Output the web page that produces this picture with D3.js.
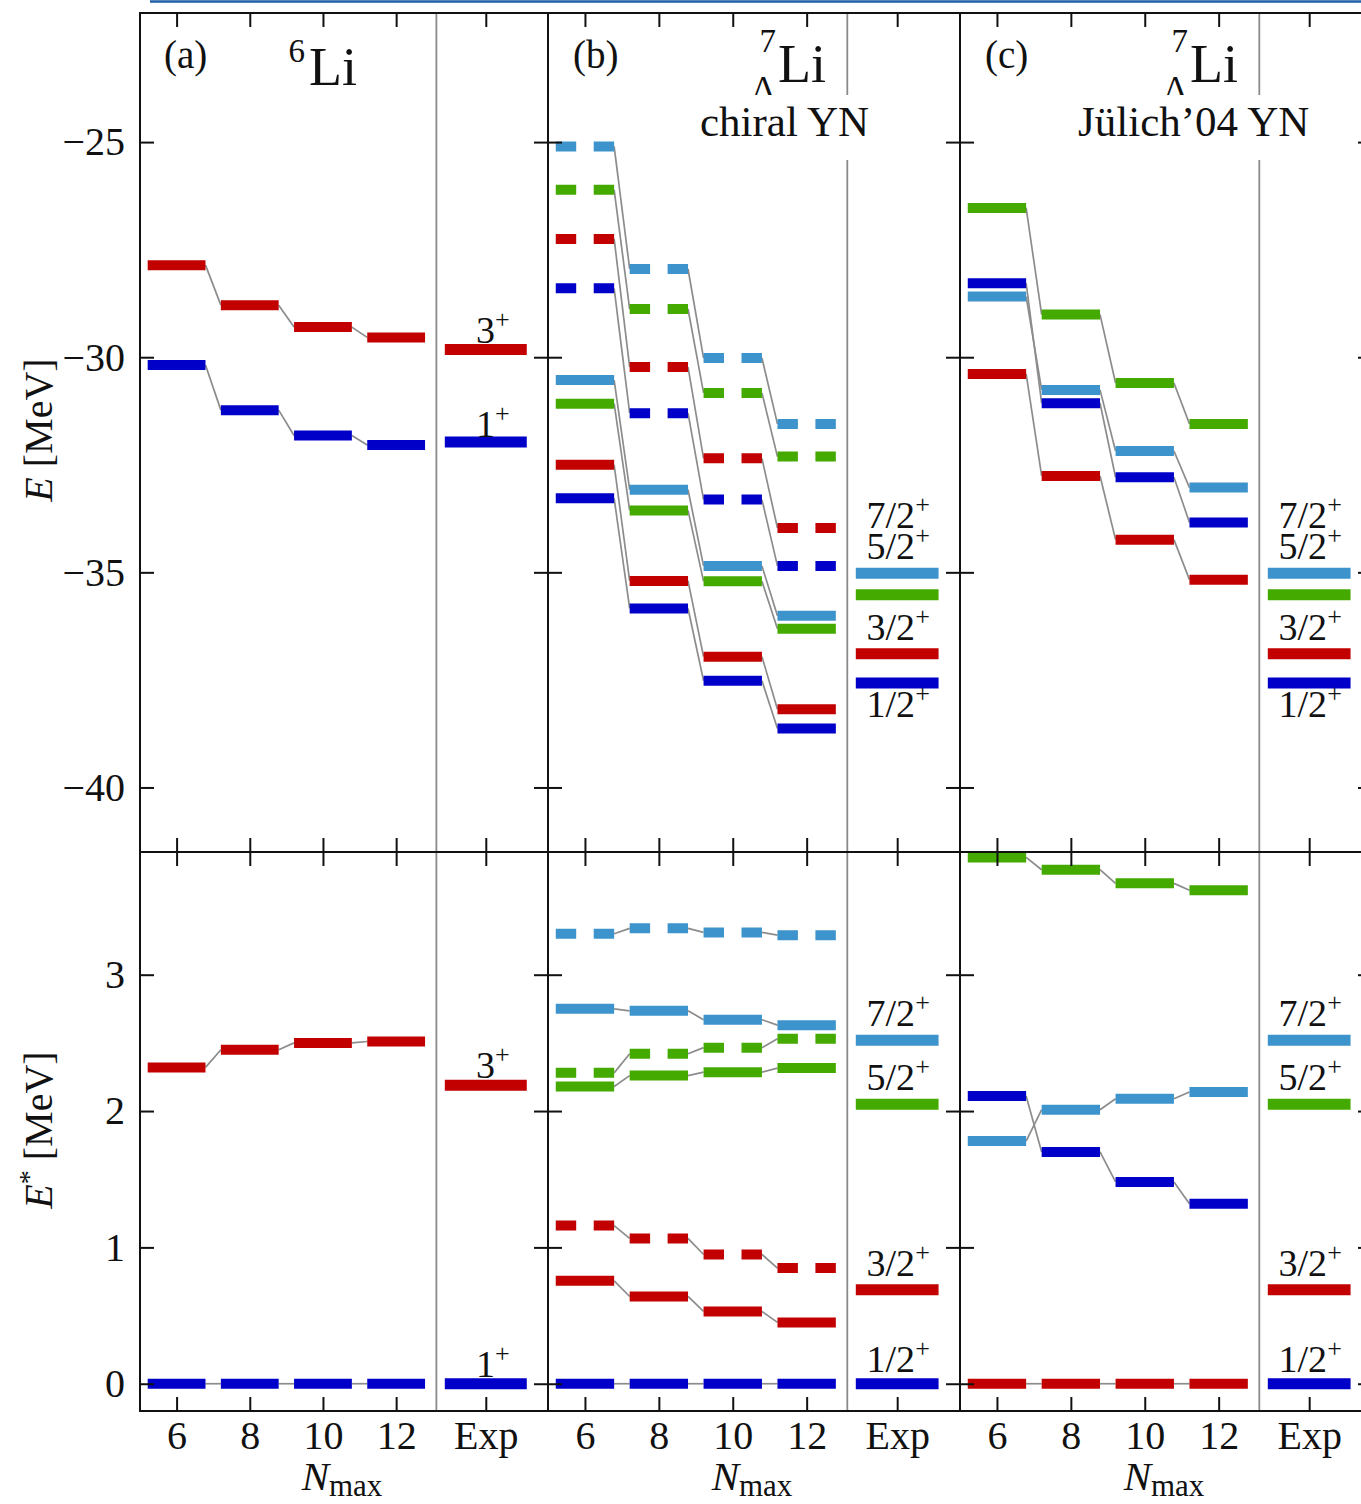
<!DOCTYPE html>
<html>
<head>
<meta charset="utf-8">
<script src="https://cdn.jsdelivr.net/npm/d3@7"></script>
<style>
  body { margin: 0; background: #fff; }
  svg { display: block; font-family: "Liberation Serif", "DejaVu Serif", serif; }
</style>
</head>
<body>
<svg id="chart" width="1361" height="1504"></svg>
<script>
(function() {
	'use strict';

	// x positions (Nmax), tick labels
	var nmaxValues = [6, 8, 10, 12];
	var expPos = 14.45;
	var sepPos = 13.1;
	var xTickValues = [6, 8, 10, 12, 14.45];
	var xTickLabels = ['6', '8', '10', '12', 'Exp'];
	var yTicksTop = [-25, -30, -35, -40];
	var yTicksBottom = [0, 1, 2, 3];

	// (a) 6Li, absolute energies [MeV]
	var li6Top3 = [-27.86, -28.79, -29.30, -29.54];
	var li6Top1 = [-30.18, -31.23, -31.82, -32.04];
	var li6ExpTop = [-29.82, -31.97];        // 3+, 1+
	// (a) 6Li, excitation energies
	var li6Exc3 = [2.32, 2.45, 2.50, 2.51];
	var li6Exc1 = [0, 0, 0, 0];
	var li6ExpExc = [2.19, 0];
	var li6Labels = ['3', '1'];

	// (b) 7/Lambda Li, chiral YN (solid / dashed)
	var chiTop72 = [-30.53, -33.08, -34.85, -36.01];
	var chiTop52 = [-31.08, -33.56, -35.21, -36.31];
	var chiTop32 = [-32.50, -35.20, -36.96, -38.18];
	var chiTop12 = [-33.28, -35.84, -37.52, -38.63];
	var chiTop72d = [-25.10, -27.95, -30.02, -31.55];
	var chiTop52d = [-26.11, -28.88, -30.83, -32.31];
	var chiTop32d = [-27.25, -30.23, -32.35, -33.97];
	var chiTop12d = [-28.40, -31.30, -33.31, -34.85];
	var chiExc72 = [2.75, 2.735, 2.67, 2.63];
	var chiExc52 = [2.18, 2.26, 2.285, 2.315];
	var chiExc32 = [0.755, 0.64, 0.53, 0.45];
	var chiExc12 = [0, 0, 0, 0];
	var chiExc72d = [3.30, 3.34, 3.31, 3.29];
	var chiExc52d = [2.28, 2.42, 2.465, 2.53];
	var chiExc32d = [1.16, 1.066, 0.948, 0.848];

	// (c) 7/Lambda Li, Juelich'04 YN
	var julTop72 = [-28.59, -30.76, -32.18, -33.03];
	var julTop52 = [-26.53, -29.01, -30.60, -31.55];
	var julTop32 = [-30.39, -32.76, -34.24, -35.17];
	var julTop12 = [-28.28, -31.07, -32.79, -33.84];
	var julExc72 = [1.78, 2.01, 2.09, 2.14];
	var julExc52 = [3.86, 3.77, 3.67, 3.62];
	var julExc32 = [0, 0, 0, 0];
	var julExc12 = [2.11, 1.70, 1.48, 1.32];

	// experiment 7/Lambda Li: 7/2+, 5/2+, 3/2+, 1/2+
	var lamExpTop = [-35.02, -35.52, -36.89, -37.57];
	var lamExpExc = [2.52, 2.05, 0.69, 0];
	var lamLabels = ['7/2', '5/2', '3/2', '1/2'];

	var RED = '#c20000', BLUE = '#0000c8', LBLUE = '#3d94cc', GREEN = '#44aa00';

	var svg = d3.select('#chart');
	var yTop = d3.scaleLinear().domain([-41.5, -22]).range([852, 13]);
	var yBot = d3.scaleLinear().domain([-0.2, 3.9]).range([1411, 852]);

	var ser = function(values, color, dashed) {
		return { values: values, color: color, dashed: !!dashed };
	};

	var lamSeries = function(t72, t52, t32, t12) {
		return [ser(t72, LBLUE), ser(t52, GREEN), ser(t32, RED), ser(t12, BLUE)];
	};

	var panels = [
		{
			left: 140, width: 408,
			top: [ser(li6Top3, RED), ser(li6Top1, BLUE)],
			bottom: [ser(li6Exc3, RED), ser(li6Exc1, BLUE)],
			expTop: [{ v: li6ExpTop[0], c: RED }, { v: li6ExpTop[1], c: BLUE }],
			expBot: [{ v: li6ExpExc[0], c: RED }, { v: li6ExpExc[1], c: BLUE }],
			labTop: [{ t: li6Labels[0], v: li6ExpTop[0], off: -6 }, { t: li6Labels[1], v: li6ExpTop[1], off: -5 }],
			labBot: [{ t: li6Labels[0], v: li6ExpExc[0], off: -7 }, { t: li6Labels[1], v: li6ExpExc[1], off: -7 }],
			labDx: 7
		},
		{
			left: 548, width: 412,
			top: [ser(chiTop72d, LBLUE, true), ser(chiTop52d, GREEN, true), ser(chiTop32d, RED, true), ser(chiTop12d, BLUE, true)]
				.concat(lamSeries(chiTop72, chiTop52, chiTop32, chiTop12)),
			bottom: [ser(chiExc72d, LBLUE, true), ser(chiExc52d, GREEN, true), ser(chiExc32d, RED, true)]
				.concat(lamSeries(chiExc72, chiExc52, chiExc32, chiExc12)),
			expTop: null, expBot: null, labDx: 1
		},
		{
			left: 960, width: 412,
			top: lamSeries(julTop72, julTop52, julTop32, julTop12),
			bottom: lamSeries(julExc72, julExc52, julExc32, julExc12),
			expTop: null, expBot: null, labDx: 1
		}
	];

	[1, 2].forEach(function(i) {
		var p = panels[i];
		p.expTop = [LBLUE, GREEN, RED, BLUE].map(function(c, k) { return { v: lamExpTop[k], c: c }; });
		p.expBot = [LBLUE, GREEN, RED, BLUE].map(function(c, k) { return { v: lamExpExc[k], c: c }; });
		p.labTop = [
			{ t: lamLabels[0], v: lamExpTop[0], off: -45 },
			{ t: lamLabels[1], v: lamExpTop[0], off: -14 },
			{ t: lamLabels[2], v: lamExpTop[2], off: -14 },
			{ t: lamLabels[3], v: lamExpTop[3], off: 34 }
		];
		p.labBot = lamLabels.map(function(t, k) {
			return { t: t, v: lamExpExc[k], off: k == 3 ? -12 : -14 };
		});
	});

	// top-of-page rule left over from the page above
	svg.append('line')
		.attr('x1', 150).attr('x2', 1361).attr('y1', 1.5).attr('y2', 1.5)
		.attr('stroke', '#1d5ea6').attr('stroke-width', 2.5);

	var styleAxis = function(sel) {
		sel.select('.domain').remove();
		sel.selectAll('.tick line').attr('stroke', '#111').attr('stroke-width', 2);
		sel.selectAll('.tick text').attr('fill', '#111').style('font-size', '40px')
			.style('font-family', '"Liberation Serif", serif');
	};

	var drawLevels = function(g, x, y, series, exps, labels, labDx) {
		var hw = 0.79, ehw = 1.12;
		var barW = x(6 + hw) - x(6 - hw);

		// connectors
		series.forEach(function(s) {
			var segs = d3.pairs(d3.zip(nmaxValues, s.values));
			g.selectAll(null).data(segs).enter().append('line')
				.attr('x1', function(d) { return x(d[0][0] + hw); })
				.attr('y1', function(d) { return y(d[0][1]); })
				.attr('x2', function(d) { return x(d[1][0] - hw); })
				.attr('y2', function(d) { return y(d[1][1]); })
				.attr('stroke', '#8c8c8c').attr('stroke-width', 1.7);
		});

		// bars
		series.forEach(function(s) {
			g.selectAll(null).data(d3.zip(nmaxValues, s.values)).enter().append('line')
				.attr('x1', function(d) { return x(d[0] - hw); })
				.attr('x2', function(d) { return x(d[0] + hw); })
				.attr('y1', function(d) { return y(d[1]); })
				.attr('y2', function(d) { return y(d[1]); })
				.attr('stroke', s.color).attr('stroke-width', 10)
				.attr('stroke-dasharray', s.dashed ? (barW * 0.35) + ',' + (barW * 0.3) : null);
		});

		g.selectAll(null).data(exps).enter().append('line')
			.attr('x1', x(expPos - ehw)).attr('x2', x(expPos + ehw))
			.attr('y1', function(d) { return y(d.v); })
			.attr('y2', function(d) { return y(d.v); })
			.attr('stroke', function(d) { return d.c; }).attr('stroke-width', 11);

		var t = g.selectAll(null).data(labels).enter().append('text')
			.attr('x', x(expPos) + labDx)
			.attr('y', function(d) { return y(d.v) + d.off; })
			.attr('text-anchor', 'middle')
			.style('font-size', '38px').attr('fill', '#111');
		t.append('tspan').text(function(d) { return d.t; });
		t.append('tspan').attr('dy', -15).style('font-size', '26px').text('+');
	};

	panels.forEach(function(p, i) {
		var x = d3.scaleLinear().domain([5, 16.15]).range([p.left, p.left + p.width]);
		var right = p.left + p.width;
		var g = svg.append('g').attr('class', 'panel');

		[[yTop, yTicksTop, 13, 852, true], [yBot, yTicksBottom, 852, 1411, false]].forEach(function(row) {
			var y = row[0], y0 = row[2], y1 = row[3], isTop = row[4];

			// separator Nmax / Exp
			g.append('line')
				.attr('x1', x(sepPos)).attr('x2', x(sepPos)).attr('y1', y0).attr('y2', y1)
				.attr('stroke', '#8a8a8a').attr('stroke-width', 1.8);

			drawLevels(g, x, y, isTop ? p.top : p.bottom, isTop ? p.expTop : p.expBot,
				isTop ? p.labTop : p.labBot, p.labDx);

			g.append('g').attr('transform', 'translate(' + p.left + ',0)')
				.call(d3.axisLeft(y).tickValues(row[1]).tickSizeInner(-14).tickSizeOuter(0).tickPadding(15)
					.tickFormat(i === 0 ? d3.format('') : ''))
				.call(styleAxis);
			g.append('g').attr('transform', 'translate(' + right + ',0)')
				.call(d3.axisRight(y).tickValues(row[1]).tickSizeInner(-14).tickSizeOuter(0).tickFormat(''))
				.call(styleAxis);
			g.append('g').attr('transform', 'translate(0,' + y0 + ')')
				.call(d3.axisTop(x).tickValues(xTickValues).tickSizeInner(-14).tickSizeOuter(0).tickFormat(''))
				.call(styleAxis);
			g.append('g').attr('transform', 'translate(0,' + y1 + ')')
				.call(d3.axisBottom(x).tickValues(xTickValues).tickSizeInner(-14).tickSizeOuter(0).tickPadding(10)
					.tickFormat(isTop ? '' : function(d, k) { return xTickLabels[k]; }))
				.call(styleAxis);

			g.append('rect')
				.attr('x', p.left).attr('y', y0).attr('width', p.width).attr('height', y1 - y0)
				.attr('fill', 'none').attr('stroke', '#111').attr('stroke-width', 2);
		});

		// Nmax label
		var nl = g.append('text').attr('x', p.left + p.width / 2 - 2).attr('y', 1490)
			.attr('text-anchor', 'middle').attr('fill', '#111');
		nl.append('tspan').style('font-style', 'italic').style('font-size', '41px').text('N');
		nl.append('tspan').attr('dy', 6).style('font-size', '31px').text('max');
	});

	// panel titles
	var txt = function(x, y, size, s, anchor) {
		return svg.append('text').attr('x', x).attr('y', y).attr('fill', '#111')
			.attr('text-anchor', anchor || 'start').style('font-size', size + 'px').text(s);
	};

	txt(164, 68, 39, '(a)');
	txt(305, 62, 33, '6', 'end');
	txt(309, 85, 54, 'Li');

	[[548, 'chiral YN', 152, '(b)'], [960, 'J\u00fclich\u2019' + '04 YN', 118, '(c)']].forEach(function(d) {
		var left = d[0];
		txt(left + 25, 68, 39, d[3]);
		txt(left + 228, 52, 33, '7', 'end');
		txt(left + 228, 99, 34, '\u039b', 'end');
		txt(left + 230, 82, 54, 'Li');
		var sub = txt(left + d[2], 136, 43, d[1]);
		var bb = sub.node().getBBox();
		svg.insert('rect', function() { return sub.node(); })
			.attr('x', bb.x - 3).attr('y', 95).attr('width', bb.width + 6).attr('height', 65)
			.attr('fill', '#fff');
	});

	// y axis titles
	var yl = svg.append('text').attr('transform', 'translate(52,430) rotate(-90)')
		.attr('text-anchor', 'middle').attr('fill', '#111').style('font-size', '40px');
	yl.append('tspan').style('font-style', 'italic').text('E');
	yl.append('tspan').text(' [MeV]');

	var yl2 = svg.append('text').attr('transform', 'translate(52,1130) rotate(-90)')
		.attr('text-anchor', 'middle').attr('fill', '#111').style('font-size', '40px');
	yl2.append('tspan').style('font-style', 'italic').text('E');
	yl2.append('tspan').attr('dy', -14).style('font-size', '28px').text('*');
	yl2.append('tspan').attr('dy', 14).text(' [MeV]');
})();
</script>
</body>
</html>
